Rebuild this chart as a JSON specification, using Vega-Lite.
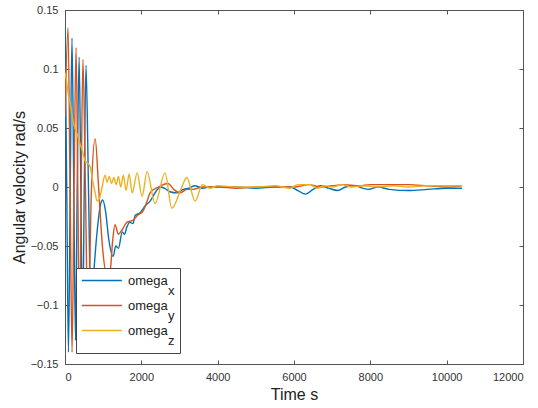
{
  "$schema": "https://vega.github.io/schema/vega-lite/v6.json",
  "width": 458,
  "height": 354,
  "autosize": "none",
  "padding": {"left": 65, "top": 10, "right": 15, "bottom": 44},
  "background": "white",
  "config": {
    "view": {"stroke": "#555", "strokeWidth": 1},
    "font": "Liberation Sans",
    "axis": {
      "grid": false,
      "domainColor": "#555",
      "tickColor": "#555",
      "labelColor": "#333",
      "titleColor": "#222",
      "labelFontSize": 11,
      "titleFontSize": 16,
      "titleFontWeight": "normal",
      "labelFont": "Liberation Sans",
      "titleFont": "Liberation Sans"
    }
  },
  "data": {
    "values": [
      {"t": 0, "v": 0.137, "s": "omega_x"},
      {"t": 45, "v": 0, "s": "omega_x"},
      {"t": 90, "v": -0.14, "s": "omega_x"},
      {"t": 137, "v": 0, "s": "omega_x"},
      {"t": 183, "v": 0.126, "s": "omega_x"},
      {"t": 230, "v": 0, "s": "omega_x"},
      {"t": 275, "v": -0.13, "s": "omega_x"},
      {"t": 320, "v": 0, "s": "omega_x"},
      {"t": 370, "v": 0.11, "s": "omega_x"},
      {"t": 415, "v": 0, "s": "omega_x"},
      {"t": 460, "v": -0.125, "s": "omega_x"},
      {"t": 505, "v": 0, "s": "omega_x"},
      {"t": 550, "v": 0.103, "s": "omega_x"},
      {"t": 615, "v": 0, "s": "omega_x"},
      {"t": 680, "v": -0.11, "s": "omega_x"},
      {"t": 760, "v": -0.07, "s": "omega_x"},
      {"t": 850, "v": -0.035, "s": "omega_x"},
      {"t": 930, "v": -0.015, "s": "omega_x"},
      {"t": 990, "v": -0.011, "s": "omega_x"},
      {"t": 1060, "v": -0.02, "s": "omega_x"},
      {"t": 1150, "v": -0.045, "s": "omega_x"},
      {"t": 1260, "v": -0.059, "s": "omega_x"},
      {"t": 1330, "v": -0.05, "s": "omega_x"},
      {"t": 1400, "v": -0.052, "s": "omega_x"},
      {"t": 1500, "v": -0.038, "s": "omega_x"},
      {"t": 1560, "v": -0.04, "s": "omega_x"},
      {"t": 1620, "v": -0.034, "s": "omega_x"},
      {"t": 1700, "v": -0.03, "s": "omega_x"},
      {"t": 1780, "v": -0.031, "s": "omega_x"},
      {"t": 1840, "v": -0.024, "s": "omega_x"},
      {"t": 1960, "v": -0.022, "s": "omega_x"},
      {"t": 2100, "v": -0.016, "s": "omega_x"},
      {"t": 2230, "v": -0.012, "s": "omega_x"},
      {"t": 2400, "v": -0.003, "s": "omega_x"},
      {"t": 2500, "v": 0.0, "s": "omega_x"},
      {"t": 2600, "v": -0.001, "s": "omega_x"},
      {"t": 2750, "v": -0.004, "s": "omega_x"},
      {"t": 2930, "v": -0.005, "s": "omega_x"},
      {"t": 3100, "v": -0.002, "s": "omega_x"},
      {"t": 3250, "v": -0.001, "s": "omega_x"},
      {"t": 3400, "v": 0.001, "s": "omega_x"},
      {"t": 3600, "v": -0.001, "s": "omega_x"},
      {"t": 3800, "v": 0.0, "s": "omega_x"},
      {"t": 4000, "v": 0.0, "s": "omega_x"},
      {"t": 4500, "v": 0.0, "s": "omega_x"},
      {"t": 5000, "v": -0.001, "s": "omega_x"},
      {"t": 5500, "v": 0.0, "s": "omega_x"},
      {"t": 5900, "v": 0.0, "s": "omega_x"},
      {"t": 6100, "v": -0.003, "s": "omega_x"},
      {"t": 6300, "v": -0.006, "s": "omega_x"},
      {"t": 6500, "v": -0.002, "s": "omega_x"},
      {"t": 6700, "v": 0.001, "s": "omega_x"},
      {"t": 6900, "v": -0.001, "s": "omega_x"},
      {"t": 7150, "v": -0.003, "s": "omega_x"},
      {"t": 7350, "v": 0.0, "s": "omega_x"},
      {"t": 7600, "v": 0.001, "s": "omega_x"},
      {"t": 7800, "v": -0.001, "s": "omega_x"},
      {"t": 7950, "v": -0.002, "s": "omega_x"},
      {"t": 8200, "v": 0.0, "s": "omega_x"},
      {"t": 8500, "v": -0.002, "s": "omega_x"},
      {"t": 9000, "v": -0.003, "s": "omega_x"},
      {"t": 9500, "v": -0.002, "s": "omega_x"},
      {"t": 10000, "v": -0.001, "s": "omega_x"},
      {"t": 10400, "v": -0.001, "s": "omega_x"},

      {"t": 0, "v": 0.06, "s": "omega_y"},
      {"t": 80, "v": 0.135, "s": "omega_y"},
      {"t": 132, "v": 0, "s": "omega_y"},
      {"t": 185, "v": -0.14, "s": "omega_y"},
      {"t": 237, "v": 0, "s": "omega_y"},
      {"t": 290, "v": 0.118, "s": "omega_y"},
      {"t": 335, "v": 0, "s": "omega_y"},
      {"t": 380, "v": -0.13, "s": "omega_y"},
      {"t": 425, "v": 0, "s": "omega_y"},
      {"t": 470, "v": 0.108, "s": "omega_y"},
      {"t": 535, "v": 0, "s": "omega_y"},
      {"t": 600, "v": -0.12, "s": "omega_y"},
      {"t": 695, "v": 0, "s": "omega_y"},
      {"t": 790, "v": 0.041, "s": "omega_y"},
      {"t": 880, "v": 0, "s": "omega_y"},
      {"t": 980, "v": -0.05, "s": "omega_y"},
      {"t": 1100, "v": -0.075, "s": "omega_y"},
      {"t": 1180, "v": -0.072, "s": "omega_y"},
      {"t": 1250, "v": -0.045, "s": "omega_y"},
      {"t": 1310, "v": -0.032, "s": "omega_y"},
      {"t": 1400, "v": -0.04, "s": "omega_y"},
      {"t": 1500, "v": -0.036, "s": "omega_y"},
      {"t": 1620, "v": -0.03, "s": "omega_y"},
      {"t": 1790, "v": -0.028, "s": "omega_y"},
      {"t": 1900, "v": -0.024, "s": "omega_y"},
      {"t": 2050, "v": -0.02, "s": "omega_y"},
      {"t": 2150, "v": -0.012, "s": "omega_y"},
      {"t": 2230, "v": -0.005, "s": "omega_y"},
      {"t": 2450, "v": 0.0, "s": "omega_y"},
      {"t": 2700, "v": 0.003, "s": "omega_y"},
      {"t": 2850, "v": -0.002, "s": "omega_y"},
      {"t": 3010, "v": -0.005, "s": "omega_y"},
      {"t": 3200, "v": -0.002, "s": "omega_y"},
      {"t": 3350, "v": -0.002, "s": "omega_y"},
      {"t": 3600, "v": 0.0, "s": "omega_y"},
      {"t": 4000, "v": 0.0, "s": "omega_y"},
      {"t": 4500, "v": -0.001, "s": "omega_y"},
      {"t": 5000, "v": 0.0, "s": "omega_y"},
      {"t": 5500, "v": 0.0, "s": "omega_y"},
      {"t": 6000, "v": 0.0, "s": "omega_y"},
      {"t": 6400, "v": 0.002, "s": "omega_y"},
      {"t": 6700, "v": 0.0, "s": "omega_y"},
      {"t": 7000, "v": 0.001, "s": "omega_y"},
      {"t": 7300, "v": 0.002, "s": "omega_y"},
      {"t": 7700, "v": 0.001, "s": "omega_y"},
      {"t": 8000, "v": 0.002, "s": "omega_y"},
      {"t": 8500, "v": 0.002, "s": "omega_y"},
      {"t": 9000, "v": 0.002, "s": "omega_y"},
      {"t": 9500, "v": 0.001, "s": "omega_y"},
      {"t": 10000, "v": 0.0, "s": "omega_y"},
      {"t": 10400, "v": 0.001, "s": "omega_y"},

      {"t": 0, "v": 0.097, "s": "omega_z"},
      {"t": 40, "v": 0.09, "s": "omega_z"},
      {"t": 80, "v": 0.08, "s": "omega_z"},
      {"t": 130, "v": 0.072, "s": "omega_z"},
      {"t": 200, "v": 0.058, "s": "omega_z"},
      {"t": 260, "v": 0.05, "s": "omega_z"},
      {"t": 330, "v": 0.044, "s": "omega_z"},
      {"t": 400, "v": 0.036, "s": "omega_z"},
      {"t": 460, "v": 0.03, "s": "omega_z"},
      {"t": 530, "v": 0.022, "s": "omega_z"},
      {"t": 600, "v": 0.02, "s": "omega_z"},
      {"t": 660, "v": 0.017, "s": "omega_z"},
      {"t": 720, "v": 0.006, "s": "omega_z"},
      {"t": 790, "v": -0.005, "s": "omega_z"},
      {"t": 840, "v": -0.012, "s": "omega_z"},
      {"t": 900, "v": -0.01, "s": "omega_z"},
      {"t": 960, "v": -0.002, "s": "omega_z"},
      {"t": 1050, "v": 0.01, "s": "omega_z"},
      {"t": 1100, "v": 0.004, "s": "omega_z"},
      {"t": 1160, "v": 0.009, "s": "omega_z"},
      {"t": 1220, "v": 0.003, "s": "omega_z"},
      {"t": 1280, "v": 0.008, "s": "omega_z"},
      {"t": 1340, "v": 0.002, "s": "omega_z"},
      {"t": 1400, "v": 0.009, "s": "omega_z"},
      {"t": 1460, "v": 0.0, "s": "omega_z"},
      {"t": 1530, "v": 0.01, "s": "omega_z"},
      {"t": 1600, "v": -0.003, "s": "omega_z"},
      {"t": 1680, "v": 0.011, "s": "omega_z"},
      {"t": 1760, "v": -0.005, "s": "omega_z"},
      {"t": 1890, "v": 0.012, "s": "omega_z"},
      {"t": 2020, "v": -0.008, "s": "omega_z"},
      {"t": 2150, "v": 0.013, "s": "omega_z"},
      {"t": 2360, "v": -0.014, "s": "omega_z"},
      {"t": 2620, "v": 0.012, "s": "omega_z"},
      {"t": 2800, "v": -0.018, "s": "omega_z"},
      {"t": 3060, "v": 0.0, "s": "omega_z"},
      {"t": 3190, "v": 0.008, "s": "omega_z"},
      {"t": 3410, "v": -0.012, "s": "omega_z"},
      {"t": 3600, "v": 0.002, "s": "omega_z"},
      {"t": 3800, "v": -0.001, "s": "omega_z"},
      {"t": 4000, "v": 0.001, "s": "omega_z"},
      {"t": 4500, "v": 0.0, "s": "omega_z"},
      {"t": 5000, "v": 0.0, "s": "omega_z"},
      {"t": 5500, "v": 0.001, "s": "omega_z"},
      {"t": 5900, "v": -0.001, "s": "omega_z"},
      {"t": 6100, "v": 0.002, "s": "omega_z"},
      {"t": 6420, "v": 0.002, "s": "omega_z"},
      {"t": 6600, "v": -0.001, "s": "omega_z"},
      {"t": 6800, "v": 0.001, "s": "omega_z"},
      {"t": 7000, "v": 0.0, "s": "omega_z"},
      {"t": 7260, "v": 0.002, "s": "omega_z"},
      {"t": 7500, "v": 0.0, "s": "omega_z"},
      {"t": 7800, "v": 0.001, "s": "omega_z"},
      {"t": 8200, "v": 0.0, "s": "omega_z"},
      {"t": 8600, "v": 0.001, "s": "omega_z"},
      {"t": 9000, "v": 0.0, "s": "omega_z"},
      {"t": 9500, "v": 0.001, "s": "omega_z"},
      {"t": 10000, "v": 0.001, "s": "omega_z"},
      {"t": 10400, "v": 0.001, "s": "omega_z"}
    ]
  },
  "layer": [
    {
      "mark": {"type": "line", "strokeWidth": 1.4, "interpolate": "monotone", "clip": true},
      "encoding": {
        "x": {
          "field": "t", "type": "quantitative",
          "scale": {"domain": [0, 12000], "nice": false},
          "axis": {"title": "Time s", "orient": "bottom", "values": [0, 2000, 4000, 6000, 8000, 10000, 12000], "format": "d", "tickSize": -4, "labelPadding": 11, "titlePadding": 4}
        },
        "y": {
          "field": "v", "type": "quantitative",
          "scale": {"domain": [-0.15, 0.15], "nice": false, "zero": false},
          "axis": {"title": "Angular velocity rad/s", "orient": "left", "values": [-0.15, -0.1, -0.05, 0, 0.05, 0.1, 0.15], "format": ".2~f", "tickSize": -4, "labelPadding": 11, "titlePadding": 3}
        },
        "color": {
          "field": "s", "type": "nominal",
          "scale": {"domain": ["omega_x", "omega_y", "omega_z"], "range": ["#0072BD", "#D95319", "#EDB120"]},
          "legend": {
            "title": null,
            "orient": "bottom-left",
            "offset": 11,
            "symbolType": "M-1,0H5",
            "symbolSize": 178,
            "symbolStrokeWidth": 1.5,
            "symbolFillColor": "transparent",
            "labelFontSize": 13,
            "labelColor": "#222",
            "labelBaseline": "middle",
            "labelOffset": 32,
            "labelExpr": "['omega', '\u2800\u2800\u2800\u2800' + slice(datum.label, 6)]",
            "fillColor": "white",
            "strokeColor": "#444",
            "padding": 5,
            "rowPadding": 0,
            "encode": {"labels": {"update": {"lineHeight": {"value": 10}}}}
          }
        }
      }
    },
    {
      "mark": {"type": "line", "opacity": 0},
      "encoding": {
        "x": {
          "field": "t", "type": "quantitative",
          "axis": {"title": null, "orient": "top", "values": [0, 2000, 4000, 6000, 8000, 10000, 12000], "labels": false, "tickSize": -4, "domain": false}
        },
        "y": {
          "field": "v", "type": "quantitative",
          "axis": {"title": null, "orient": "right", "values": [-0.15, -0.1, -0.05, 0, 0.05, 0.1, 0.15], "labels": false, "tickSize": -4, "domain": false}
        }
      }
    }
  ],
  "resolve": {"axis": {"x": "independent", "y": "independent"}}
}
